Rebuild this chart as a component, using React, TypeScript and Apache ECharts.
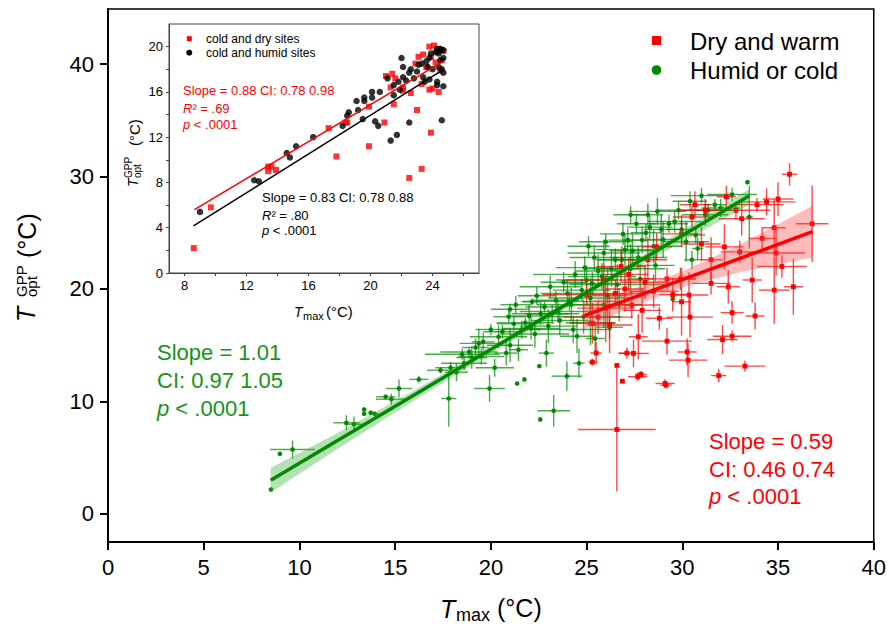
import React, { useEffect, useRef } from "react";
import * as echarts from "echarts";

const FONT = '"Liberation Sans", Arial, Helvetica, sans-serif';

// ---- axis ticks ----
const mainXTicks = [0, 5, 10, 15, 20, 25, 30, 35, 40];
const mainYTicks = [0, 10, 20, 30, 40];
const insetXTicks = [8, 12, 16, 20, 24];
const insetXMinor = [8, 10, 12, 14, 16, 18, 20, 22, 24, 26];
const insetYTicks = [0, 4, 8, 12, 16, 20];
const insetYMinor = [0, 2, 4, 6, 8, 10, 12, 14, 16, 18, 20];

// ---- main: [Tmax, Topt, xErr, yErr] ----
const humidOrCold: number[][] = [
  [8.51, 2.17, 0, 0], [8.98, 5.34, 0, 0], [9.64, 5.73, 1.17, 0.8], [12.45, 8.1, 0.68, 0.67],
  [12.85, 7.97, 0.5, 0.7], [13.38, 9.29, 0, 0], [13.38, 8.9, 0, 0], [13.72, 9.0, 0, 0],
  [13.93, 8.9, 0.3, 0], [14.5, 10.41, 0.5, 0.2], [14.8, 10.2, 0.8, 0.5], [15.2, 11.15, 0.7, 0.8],
  [16.24, 11.96, 0.5, 0.3], [17.37, 12.78, 0.7, 0.3], [17.8, 10.26, 0.4, 2.5], [17.9, 13.0, 0.8, 0.5],
  [18.2, 12.6, 0.6, 0.8], [18.5, 14.2, 1.95, 0.5], [18.6, 13.4, 1.2, 0.6], [18.86, 14.4, 1.5, 0.4],
  [19.0, 13.9, 0.8, 1.0], [19.37, 15.16, 1.0, 1.3], [19.6, 15.3, 0.6, 0.8], [19.5, 14.0, 1.2, 0.7],
  [19.93, 11.15, 0.8, 1.2], [20.2, 13.0, 1.0, 0.8], [20.4, 15.75, 1.5, 1.0], [20.6, 16.2, 1.0, 0.6],
  [20.93, 17.53, 0.8, 0.5], [21.0, 15.0, 1.2, 1.5], [21.37, 11.6, 0, 0], [21.75, 11.96, 0, 0],
  [21.44, 14.6, 0.5, 1.0], [21.61, 16.4, 1.0, 0.8], [21.8, 17.0, 1.5, 0.6], [22.15, 18.86, 0.5, 0.3],
  [22.0, 17.6, 1.2, 1.0], [22.3, 16.0, 1.8, 1.2], [22.53, 13.14, 0, 0], [22.58, 8.4, 0, 0],
  [22.9, 14.3, 0.4, 1.2], [22.6, 17.8, 1.5, 1.0], [22.8, 18.4, 1.0, 0.5], [23.0, 16.7, 1.5, 1.5],
  [23.28, 9.17, 0.85, 1.4], [23.4, 19.0, 1.2, 0.8], [23.5, 18.0, 2.0, 1.0], [23.6, 17.2, 1.5, 1.3],
  [23.97, 12.25, 0.8, 1.3], [24.0, 19.6, 1.4, 1.2], [24.2, 18.6, 1.8, 1.5], [24.3, 16.4, 2.0, 1.2],
  [24.6, 13.4, 0.3, 1.3], [24.75, 19.9, 1.5, 1.0], [24.84, 17.53, 2.0, 1.5], [25.0, 20.8, 1.6, 1.3],
  [25.2, 19.2, 2.2, 1.8], [25.3, 20.5, 1.5, 1.0], [25.45, 15.6, 0.5, 1.4], [25.6, 21.6, 1.2, 1.5],
  [25.8, 21.1, 1.8, 1.2], [25.9, 18.6, 2.0, 2.0], [26.2, 16.6, 0.7, 1.0], [26.3, 21.8, 1.4, 1.6],
  [26.5, 22.6, 1.0, 1.0], [26.6, 20.4, 2.5, 1.8], [26.84, 22.6, 1.2, 1.2], [27.0, 23.5, 1.5, 1.4],
  [27.15, 24.35, 1.0, 1.0], [27.3, 21.8, 1.8, 2.2], [27.4, 23.4, 1.2, 1.5], [27.7, 22.8, 1.5, 1.0],
  [27.9, 24.35, 1.0, 1.2], [28.1, 25.0, 0.8, 0.8], [28.3, 25.5, 1.2, 1.0], [28.5, 23.8, 1.5, 1.5],
  [28.9, 25.3, 0.9, 1.4], [29.3, 25.8, 1.0, 0.8], [29.5, 19.1, 0, 0], [29.6, 26.0, 1.4, 1.0],
  [29.96, 25.3, 0.8, 1.3], [30.2, 24.2, 1.2, 1.8], [30.5, 22.6, 0.4, 0.8], [30.7, 24.8, 0.5, 0.7],
  [30.8, 23.6, 0.3, 1.0], [31.2, 26.6, 1.2, 1.0], [31.35, 27.0, 0.8, 0.6], [31.7, 27.5, 0.6, 0.5],
  [32.0, 27.2, 1.0, 0.8], [33.4, 29.5, 0, 0], [33.5, 26.4, 0.2, 2.8],
  [21.0, 18.2, 1.0, 0.5], [21.3, 18.6, 0.8, 0.8], [22.4, 19.4, 1.0, 0.8], [23.1, 20.2, 1.6, 1.0],
  [23.8, 20.6, 1.2, 0.9], [24.4, 21.3, 2.2, 1.2], [24.9, 21.9, 1.5, 1.0], [25.4, 22.8, 1.3, 1.1],
  [25.9, 23.2, 1.9, 1.2], [26.1, 19.4, 1.0, 2.4], [26.9, 24.9, 1.2, 1.0], [27.6, 25.8, 1.0, 0.9],
  [28.2, 26.6, 0.8, 1.0], [28.7, 26.9, 1.5, 1.2], [29.0, 24.4, 0.8, 1.6], [24.1, 18.9, 2.5, 0.8],
  [23.2, 17.8, 1.4, 0.8], [22.1, 16.5, 1.5, 1.0], [21.2, 16.9, 0.9, 0.6], [20.0, 16.4, 0.8, 0.5],
  [19.2, 14.8, 0.7, 0.8], [20.8, 14.3, 0.6, 1.1], [25.2, 17.0, 1.3, 2.0], [24.5, 15.8, 0.9, 1.5],
  [26.7, 18.6, 1.0, 1.5], [27.8, 20.9, 0.7, 1.3], [28.6, 22.1, 1.0, 1.4], [26.0, 24.2, 1.4, 0.7],
  [27.3, 26.6, 0.9, 0.8], [25.1, 23.8, 1.1, 0.9], [29.8, 27.0, 1.2, 0.8], [30.4, 27.8, 0.9, 0.9],
  [31.0, 28.3, 1.6, 0.7], [32.6, 28.4, 1.3, 0.6],
];

const dryAndWarm: number[][] = [
  [26.58, 7.5, 2.03, 5.5], [26.58, 13.2, 0, 0], [26.87, 11.8, 0, 0], [27.67, 12.2, 0.5, 0.4],
  [27.84, 12.4, 0.3, 0.3], [29.1, 11.6, 0.5, 0.4], [29.15, 11.45, 0.3, 0.3], [31.9, 12.3, 0.4, 0.6],
  [33.27, 13.14, 1.06, 0.5], [32.1, 15.5, 0.8, 1.3], [32.6, 15.8, 1.0, 0.5], [32.6, 17.9, 0.6, 1.0],
  [33.8, 17.6, 0.5, 1.2], [35.8, 20.2, 0.5, 2.5], [35.6, 30.2, 0.4, 1.0], [36.78, 25.8, 0.85, 3.4],
  [34.8, 19.9, 0.8, 3.0], [34.9, 23.2, 1.5, 2.0], [35.2, 22.0, 1.3, 1.0], [34.8, 25.45, 0.6, 2.5],
  [35.0, 28.0, 0.8, 1.5], [34.4, 27.75, 1.5, 1.2], [34.17, 24.5, 0.7, 1.0], [33.65, 20.8, 0.5, 2.0],
  [33.0, 23.3, 1.0, 1.0], [33.1, 26.25, 1.2, 1.5], [32.3, 28.2, 0.5, 1.0], [32.2, 23.75, 1.0, 2.0],
  [32.4, 20.2, 0.6, 1.5], [31.5, 20.5, 1.0, 1.0], [31.5, 22.6, 0.6, 2.0], [30.4, 17.5, 1.2, 1.8],
  [30.35, 19.46, 1.0, 2.0], [30.3, 13.67, 1.0, 1.5], [30.25, 14.4, 0.5, 1.2], [29.96, 18.86, 0.5, 3.0],
  [29.9, 20.9, 0.8, 1.0], [29.2, 15.36, 1.3, 1.2], [29.5, 19.5, 0.7, 1.5], [28.05, 20.6, 1.2, 1.5],
  [27.9, 18.1, 1.0, 2.0], [27.7, 15.75, 0.5, 2.0], [27.45, 14.27, 0.8, 1.2], [27.1, 14.3, 0.4, 0.5],
  [27.36, 18.57, 1.5, 1.2], [27.2, 21.3, 1.0, 1.5], [26.2, 16.8, 1.2, 2.5], [25.5, 14.3, 0.3, 1.0],
  [25.3, 13.5, 0.2, 0.3], [25.6, 17.5, 1.8, 1.5], [25.3, 16.95, 1.2, 1.8], [26.5, 19.6, 1.6, 1.2],
  [26.8, 22.0, 1.3, 1.5], [28.2, 22.6, 1.0, 2.0], [28.66, 23.75, 0.8, 1.2], [29.2, 20.9, 1.5, 1.0],
  [29.96, 24.9, 1.0, 1.2], [30.5, 26.4, 1.0, 1.0], [31.2, 27.0, 1.4, 1.0], [30.66, 27.5, 0.8, 1.2],
  [25.0, 19.5, 2.3, 1.0], [25.9, 20.8, 2.0, 1.3], [26.0, 18.3, 1.5, 3.0], [27.0, 20.0, 1.0, 2.0],
  [28.5, 19.8, 1.3, 1.5], [28.8, 17.4, 0.7, 1.0], [31.0, 24.0, 1.0, 1.5], [32.8, 27.0, 1.8, 0.8],
  [33.9, 27.5, 1.4, 0.6],
];

// ---- main regression lines and confidence bands ----
const greenLine = [[8.5, 3.0], [33.5, 28.3]];
const redLine = [[24.85, 17.6], [36.8, 25.1]];
const greenBandX = [8.5, 12, 16, 20, 24, 28, 33.5];
const greenBandLow = [1.9, 5.8, 10.1, 14.3, 18.3, 22.3, 27.5];
const greenBandHigh = [4.1, 7.2, 11.0, 14.9, 18.9, 23.1, 28.9];
const redBandX = [24.85, 27, 30, 33, 36.8];
const redBandLow = [16.4, 18.15, 20.15, 21.5, 22.8];
const redBandHigh = [18.8, 19.75, 21.55, 23.95, 27.4];

// ---- inset: [Tmax, Topt] ----
const insetDry: number[][] = [
  [8.6, 2.2], [9.7, 5.8], [13.4, 9.4], [13.6, 9.4], [13.9, 9.1], [13.4, 9.0], [17.3, 12.8],
  [17.8, 10.3], [18.5, 13.3], [18.4, 13.3], [19.9, 14.7], [19.9, 11.2], [20.9, 13.3], [21.0, 17.4],
  [21.4, 17.6], [21.5, 14.9], [21.3, 16.4], [21.6, 17.2], [22.1, 16.4], [22.1, 16.1], [22.5, 8.4],
  [22.6, 15.9], [23.0, 14.4], [22.9, 18.5], [23.1, 19.1], [23.3, 9.2], [23.3, 16.7], [23.4, 19.3],
  [23.6, 18.2], [23.8, 20.0], [23.8, 16.2], [23.9, 12.4], [24.0, 16.3], [24.1, 20.1], [24.3, 19.6],
  [24.4, 16.0], [24.6, 18.8], [24.7, 19.6], [23.9, 19.1], [24.5, 17.9], [24.2, 18.6],
];
const insetHumid: number[][] = [
  [9.0, 5.4], [12.5, 8.2], [12.8, 8.1], [14.6, 10.6], [14.8, 10.2], [15.2, 11.2], [16.3, 12.0],
  [18.2, 13.0], [18.5, 13.9], [18.6, 14.2], [19.1, 15.2], [19.2, 14.4], [19.5, 13.6], [19.6, 15.2],
  [19.6, 15.5], [20.1, 16.0], [20.1, 15.5], [20.3, 13.4], [20.5, 13.0], [20.6, 16.0], [21.1, 17.2],
  [21.3, 11.7], [21.5, 15.7], [21.5, 16.6], [21.7, 12.2], [21.8, 16.9], [21.9, 16.2], [22.0, 19.0],
  [22.1, 18.2], [22.1, 17.3], [22.3, 17.0], [22.5, 13.3], [22.5, 17.7], [22.6, 18.0], [22.8, 17.2],
  [23.0, 17.8], [23.1, 18.4], [23.3, 18.5], [23.4, 17.3], [23.6, 18.7], [23.5, 16.9], [23.7, 18.2],
  [23.8, 17.1], [23.9, 19.4], [23.8, 19.0], [24.0, 18.0], [24.2, 19.5], [24.3, 16.9], [24.3, 19.8],
  [24.4, 18.2], [24.4, 19.4], [24.5, 19.8], [24.5, 18.8], [24.6, 19.7], [24.6, 13.5], [24.7, 17.7],
  [24.7, 16.5], [24.7, 19.0], [24.7, 19.7], [24.6, 18.0], [24.3, 16.6],
];
const insetDryLine = [[8.64, 5.6], [24.68, 18.7]];
const insetHumidLine = [[8.58, 4.16], [24.57, 17.85]];

const GREEN = "#008a00";
const GREEN_BAR = "rgba(0,140,0,0.72)";
const RED = "#ff0000";
const RED_BAR = "rgba(255,0,0,0.72)";
const GREEN_TXT = "#159515";

function errSeries(data: number[][], stroke: string, fill: string, shape: string) {
  return {
    type: "custom",
    xAxisIndex: 0,
    yAxisIndex: 0,
    encode: { x: 0, y: 1 },
    data,
    z: 3,
    renderItem: (_p: any, api: any) => {
      const x = api.value(0), y = api.value(1), xe = api.value(2), ye = api.value(3);
      const c = api.coord([x, y]);
      const children: any[] = [];
      if (xe > 0) {
        const a = api.coord([x - xe, y]);
        const b = api.coord([x + xe, y]);
        children.push({ type: "line", shape: { x1: a[0], y1: a[1], x2: b[0], y2: b[1] }, style: { stroke, lineWidth: 1.4 } });
      }
      if (ye > 0) {
        const a = api.coord([x, y - ye]);
        const b = api.coord([x, y + ye]);
        children.push({ type: "line", shape: { x1: a[0], y1: a[1], x2: b[0], y2: b[1] }, style: { stroke, lineWidth: 1.4 } });
      }
      if (shape === "rect") {
        children.push({ type: "rect", shape: { x: c[0] - 2.4, y: c[1] - 2.4, width: 4.8, height: 4.8 }, style: { fill } });
      } else {
        children.push({ type: "circle", shape: { cx: c[0], cy: c[1], r: 2.3 }, style: { fill } });
      }
      return { type: "group", children };
    },
  };
}

function bandSeries(xs: number[], lo: number[], hi: number[], fill: string) {
  return {
    type: "custom",
    xAxisIndex: 0,
    yAxisIndex: 0,
    encode: { x: 0, y: 1 },
    data: [[xs[0], lo[0]]],
    z: 4,
    renderItem: (_p: any, api: any) => {
      const pts: number[][] = [];
      for (let i = 0; i < xs.length; i++) pts.push(api.coord([xs[i], hi[i]]));
      for (let i = xs.length - 1; i >= 0; i--) pts.push(api.coord([xs[i], lo[i]]));
      return { type: "polygon", shape: { points: pts }, style: { fill } };
    },
  };
}

function txt(x: number, y: number, text: string, fontSize: number, fill: string, extra: any = {}) {
  return {
    type: "text",
    x,
    y,
    z: 100,
    rotation: extra.rotation || 0,
    style: {
      text,
      fill,
      fontSize,
      fontFamily: FONT,
      fontStyle: extra.italic ? "italic" : "normal",
      textAlign: "left",
      align: "left",
      textVerticalAlign: "middle",
      verticalAlign: "middle",
      rich: extra.rich,
    },
  };
}

export default function App() {
  const ref = useRef<HTMLDivElement>(null);
  useEffect(() => {
    if (!ref.current) return;
    const chart = echarts.init(ref.current, null, { renderer: "svg" });
    const axisLabelMain = { color: "#000", fontSize: 22, fontFamily: FONT };
    const insetLabel = { color: "#000", fontSize: 13, fontFamily: FONT };
    const richI = (fs: number, color: string) => ({
      i: { fontStyle: "italic", fontSize: fs, fontFamily: FONT, color },
      n: { fontSize: fs, fontFamily: FONT, color },
    });
    chart.setOption({
      animation: false,
      grid: [
        { left: 108, top: 9, width: 768, height: 533, show: true, borderColor: "#000", borderWidth: 1.5, backgroundColor: "transparent" },
        { left: 169, top: 24, width: 310, height: 249, show: true, borderColor: "#444", borderWidth: 1, backgroundColor: "#fff", z: 5 },
      ],
      xAxis: [
        {
          type: "value", gridIndex: 0, min: 0, max: 40,
          axisLine: { show: true, onZero: false, lineStyle: { color: "#000", width: 2 } },
          axisTick: { show: true, length: 8, lineStyle: { color: "#000", width: 2 }, customValues: mainXTicks },
          axisLabel: { ...axisLabelMain, margin: 14, customValues: mainXTicks },
          splitLine: { show: false },
        },
        {
          type: "value", gridIndex: 1, min: 7, max: 27, z: 6,
          axisLine: { show: true, onZero: false, lineStyle: { color: "#444", width: 1 } },
          axisTick: { show: true, length: 3, lineStyle: { color: "#444", width: 1 }, customValues: insetXMinor },
          axisLabel: { ...insetLabel, margin: 6, customValues: insetXTicks },
          splitLine: { show: false },
        },
      ],
      yAxis: [
        {
          type: "value", gridIndex: 0, min: -2.5, max: 44.9,
          axisLine: { show: true, onZero: false, lineStyle: { color: "#000", width: 2 } },
          axisTick: { show: true, length: 8, lineStyle: { color: "#000", width: 2 }, customValues: mainYTicks },
          axisLabel: { ...axisLabelMain, margin: 14, customValues: mainYTicks },
          splitLine: { show: false },
        },
        {
          type: "value", gridIndex: 1, min: 0, max: 22, z: 6,
          axisLine: { show: true, onZero: false, lineStyle: { color: "#444", width: 1 } },
          axisTick: { show: true, length: 3, lineStyle: { color: "#444", width: 1 }, customValues: insetYMinor },
          axisLabel: { ...insetLabel, margin: 6, customValues: insetYTicks },
          splitLine: { show: false },
        },
      ],
      series: [
        errSeries(humidOrCold, GREEN_BAR, GREEN, "circle"),
        errSeries(dryAndWarm, RED_BAR, RED, "rect"),
        bandSeries(greenBandX, greenBandLow, greenBandHigh, "rgba(40,170,40,0.35)"),
        bandSeries(redBandX, redBandLow, redBandHigh, "rgba(255,60,60,0.35)"),
        { type: "line", xAxisIndex: 0, yAxisIndex: 0, data: greenLine, symbol: "none", z: 5, lineStyle: { color: GREEN, width: 3.5 } },
        { type: "line", xAxisIndex: 0, yAxisIndex: 0, data: redLine, symbol: "none", z: 5, lineStyle: { color: RED, width: 3.5 } },
        { type: "scatter", xAxisIndex: 1, yAxisIndex: 1, data: insetDry, symbol: "rect", symbolSize: 6, z: 7, itemStyle: { color: RED } },
        { type: "scatter", xAxisIndex: 1, yAxisIndex: 1, data: insetHumid, symbol: "circle", symbolSize: 6.5, z: 7, itemStyle: { color: "#000" } },
        { type: "line", xAxisIndex: 1, yAxisIndex: 1, data: insetDryLine, symbol: "none", z: 8, lineStyle: { color: RED, width: 1.5 } },
        { type: "line", xAxisIndex: 1, yAxisIndex: 1, data: insetHumidLine, symbol: "none", z: 8, lineStyle: { color: "#000", width: 1.5 } },
      ],
      graphic: [
        // main legend
        { type: "rect", z: 100, shape: { x: 652, y: 36, width: 9, height: 9 }, style: { fill: RED } },
        { type: "circle", z: 100, shape: { cx: 656.5, cy: 70, r: 4.8 }, style: { fill: GREEN } },
        txt(690, 41.5, "Dry and warm", 24, "#000"),
        txt(690, 70, "Humid or cold", 24, "#000"),
        // main green annotation
        txt(157, 352, "Slope = 1.01", 22, GREEN_TXT),
        txt(157, 380, "CI: 0.97 1.05", 22, GREEN_TXT),
        txt(157, 408, "{i|p}{n| < .0001}", 22, GREEN_TXT, { rich: richI(22, GREEN_TXT) }),
        // main red annotation
        txt(709, 441.5, "Slope = 0.59", 22, RED),
        txt(709, 469, "CI: 0.46 0.74", 22, RED),
        txt(709, 496.5, "{i|p}{n| < .0001}", 22, RED, { rich: richI(22, RED) }),
        // main x title
        txt(440, 608.5, "T", 25, "#000", { italic: true }),
        txt(456, 614.5, "max", 18, "#000"),
        txt(497, 608, "(°C)", 25, "#000"),
        // main y title (rotated)
        txt(26, 322, "T", 25, "#000", { italic: true, rotation: Math.PI / 2 }),
        txt(21, 297, "GPP", 15, "#000", { rotation: Math.PI / 2 }),
        txt(31, 297, "opt", 15, "#000", { rotation: Math.PI / 2 }),
        txt(27, 258, "(°C)", 25, "#000", { rotation: Math.PI / 2 }),
        // inset legend
        { type: "rect", z: 100, shape: { x: 186.8, y: 36.2, width: 5, height: 5 }, style: { fill: RED } },
        { type: "circle", z: 100, shape: { cx: 189.3, cy: 52.7, r: 3 }, style: { fill: "#000" } },
        txt(206, 38.7, "cold and dry sites", 12, "#000"),
        txt(206, 52.7, "cold and humid sites", 12, "#000"),
        // inset red annotation
        txt(183, 90.7, "Slope = 0.88 CI: 0.78 0.98", 13, RED),
        txt(183, 108.3, "{i|R}{n|² = .69}", 13, RED, { rich: richI(13, RED) }),
        txt(183, 124.3, "{i|p}{n| < .0001}", 13, RED, { rich: richI(13, RED) }),
        // inset black annotation
        txt(262, 197.7, "Slope = 0.83 CI: 0.78 0.88", 13, "#000"),
        txt(262, 215, "{i|R}{n|² = .80}", 13, "#000", { rich: richI(13, "#000") }),
        txt(262, 230.5, "{i|p}{n| < .0001}", 13, "#000", { rich: richI(13, "#000") }),
        // inset x title
        txt(294, 311.5, "T", 14, "#000", { italic: true }),
        txt(303, 315.5, "max", 11, "#000"),
        txt(326, 311.5, "(°C)", 15, "#000"),
        // inset y title (rotated)
        txt(133, 187, "T", 14, "#000", { italic: true, rotation: Math.PI / 2 }),
        txt(128, 178, "GPP", 10, "#000", { rotation: Math.PI / 2 }),
        txt(137, 178, "opt", 10, "#000", { rotation: Math.PI / 2 }),
        txt(134, 146, "(°C)", 15, "#000", { rotation: Math.PI / 2 }),
      ],
    });
    return () => chart.dispose();
  }, []);
  return (
    <div
      ref={ref}
      style={{ position: "fixed", left: 0, top: 0, width: 889, height: 629, background: "#fff" }}
    />
  );
}
